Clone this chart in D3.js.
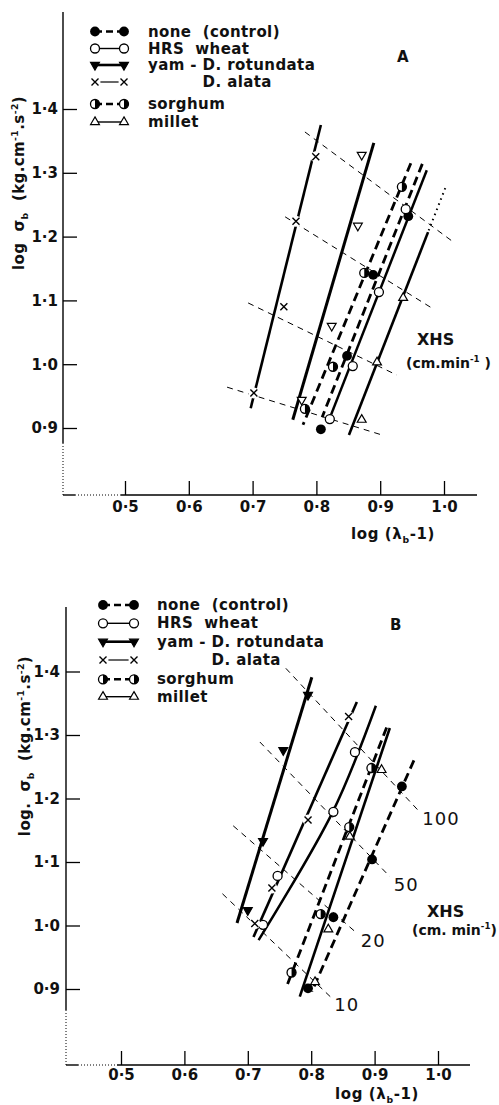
<!DOCTYPE html>
<html>
<head>
<meta charset="utf-8">
<script src="https://cdn.jsdelivr.net/npm/d3@7"></script>
<style>
body { margin: 0; background: #fff; }
text { font-family: "DejaVu Sans", sans-serif; font-weight: bold; fill: #111; white-space: pre; }
.tick text { font-size: 15px; }
.leg { font-size: 15px; letter-spacing: 0.4px; }
</style>
</head>
<body>
<svg id="chart" width="499" height="1105"></svg>
<script>
// ---- data: [log(lambda_b - 1), log sigma_b] ----
var xTicks = [0.5, 0.6, 0.7, 0.8, 0.9, 1.0];
var yTicks = [0.9, 1.0, 1.1, 1.2, 1.3, 1.4];
var seriesKeys = ["control", "hrs", "yam", "alata", "sorghum", "millet"];
var seriesNames = ["none  (control)", "HRS  wheat", "yam - D. rotundata", "D. alata", "sorghum", "millet"];

// panel A
var controlA = [[0.944, 1.232], [0.889, 1.140], [0.848, 1.013], [0.807, 0.898]];
var controlLineA = [[0.966, 1.314], [0.809, 0.917]];
var hrsA = [[0.940, 1.243], [0.898, 1.113], [0.857, 0.997], [0.821, 0.914]];
var hrsLineA = [[0.973, 1.304], [0.818, 0.908]];
var yamA = [[0.871, 1.328], [0.865, 1.217], [0.824, 1.060], [0.777, 0.944]];
var yamLineA = [[0.890, 1.347], [0.763, 0.913]];
var alataA = [[0.799, 1.325], [0.768, 1.224], [0.749, 1.090], [0.702, 0.955]];
var alataLineA = [[0.807, 1.375], [0.697, 0.931]];
var sorghumA = [[0.934, 1.278], [0.875, 1.143], [0.826, 0.996], [0.782, 0.930]];
var sorghumLineA = [[0.948, 1.315], [0.779, 0.905]];
var milletA = [[0.936, 1.104], [0.895, 1.003], [0.871, 0.913]];
var milletLineA = [[0.975, 1.207], [0.851, 0.889]];
var milletDotA = [[1.002, 1.276], [0.975, 1.207]];
var xhsA = [
    [[0.782, 1.364], [1.014, 1.192]],
    [[0.751, 1.231], [0.981, 1.088]],
    [[0.693, 1.096], [0.926, 0.983]],
    [[0.660, 0.964], [0.903, 0.889]]
];

// panel B
var controlB = [[0.943, 1.219], [0.896, 1.104], [0.835, 1.013], [0.795, 0.901]];
var controlLineB = [[0.962, 1.260], [0.801, 0.896]];
var hrsB = [[0.869, 1.273], [0.835, 1.179], [0.747, 1.078], [0.724, 1.001]];
var hrsLineB = [[0.902, 1.346], [0.834, 1.179], [0.717, 0.977]];
var yamB = [[0.795, 1.363], [0.756, 1.276], [0.724, 1.133], [0.700, 1.024]];
var yamLineB = [[0.801, 1.391], [0.683, 1.004]];
var alataB = [[0.859, 1.329], [0.795, 1.166], [0.738, 1.059], [0.711, 1.003]];
var alataLineB = [[0.872, 1.352], [0.709, 0.982]];
var sorghumB = [[0.895, 1.248], [0.860, 1.155], [0.815, 1.018], [0.769, 0.926]];
var sorghumLineB = [[0.919, 1.312], [0.762, 0.906]];
var milletB = [[0.911, 1.245], [0.861, 1.140], [0.827, 0.994], [0.806, 0.911]];
var milletLineB = [[0.924, 1.311], [0.782, 0.888]];
var xhsB = [
    [[0.760, 1.405], [0.969, 1.181]],
    [[0.719, 1.289], [0.924, 1.077]],
    [[0.677, 1.157], [0.872, 0.988]],
    [[0.660, 1.050], [0.830, 0.888]]
];
var xhsLevelsB = ["100", "50", "20", "10"];

// ---- styles ----
var lineStyle = {
    control: { dash: "9,5", w: 2.8, legW: 2.4, legDash: "7,4" },
    hrs: { dash: null, w: 2.5, legW: 1.4 },
    yam: { dash: null, w: 3, legW: 2.6 },
    alata: { dash: null, w: 2.6, legW: 1.2 },
    sorghum: { dash: "9,5", w: 2.8, legW: 2.4, legDash: "7,4" },
    millet: { dash: null, w: 2.6, legW: 1.4 }
};

var svg = d3.select("#chart");

function fmt(d) { return d.toFixed(1).replace(".", "\u00b7"); }

function rich(t, parts, size) {
    var cur = 0;
    parts.forEach(function (p) {
        var s = p[1] || 0;
        var off = s == 1 ? -0.42 * size : (s == -1 ? 0.28 * size : 0);
        t.append("tspan")
            .attr("dy", off - cur)
            .style("font-size", (s ? size * 0.62 : size) + "px")
            .text(p[0]);
        cur = off;
    });
}

function addMarker(g, kind, px, py) {
    var m = g.append("g").attr("transform", "translate(" + px + "," + py + ")");
    var r = 4.5;
    if (kind == "dot") {
        m.append("circle").attr("r", r + 0.4).attr("fill", "#000");
    } else if (kind == "ring") {
        m.append("circle").attr("r", r).attr("fill", "#fff").attr("stroke", "#000").attr("stroke-width", 1.3);
    } else if (kind == "half") {
        m.append("circle").attr("r", r).attr("fill", "#fff").attr("stroke", "#000").attr("stroke-width", 1.3);
        m.append("path")
            .attr("d", d3.arc()({ innerRadius: 0, outerRadius: r, startAngle: 0, endAngle: Math.PI }))
            .attr("fill", "#000");
    } else if (kind == "cross") {
        m.append("circle").attr("r", 5.5).attr("fill", "#fff");
        m.append("path").attr("d", "M-3.5,-3.5L3.5,3.5M-3.5,3.5L3.5,-3.5")
            .attr("stroke", "#000").attr("stroke-width", 1.4);
    } else if (kind == "triDown" || kind == "triDownOpen") {
        m.append("path").attr("d", d3.symbol(d3.symbolTriangle, 34)())
            .attr("transform", "rotate(180)")
            .attr("fill", kind == "triDown" ? "#000" : "#fff")
            .attr("stroke", "#000").attr("stroke-width", 1.2);
    } else if (kind == "triUp") {
        m.append("path").attr("d", d3.symbol(d3.symbolTriangle, 34)())
            .attr("fill", "#fff").attr("stroke", "#000").attr("stroke-width", 1.2);
    }
}

function drawPanel(p) {
    var g = svg.append("g");
    var x = d3.scaleLinear().domain([0.5, 1.0]).range([p.x05, p.x10]);
    var y = d3.scaleLinear().domain([0.9, 1.4]).range([p.y09, p.y14]);

    // axis lines, broken (dotted) near the origin
    g.append("line").attr("x1", p.left).attr("x2", p.left).attr("y1", p.top).attr("y2", p.yBreak)
        .attr("stroke", "#000").attr("stroke-width", 1.4);
    g.append("line").attr("x1", p.left).attr("x2", p.left).attr("y1", p.yBreak).attr("y2", p.bottom)
        .attr("stroke", "#000").attr("stroke-width", 1).attr("stroke-dasharray", "1,2");
    g.append("line").attr("x1", p.left).attr("x2", p.left + 12).attr("y1", p.bottom).attr("y2", p.bottom)
        .attr("stroke", "#000").attr("stroke-width", 1.4);
    g.append("line").attr("x1", p.left + 12).attr("x2", p.xBreak).attr("y1", p.bottom).attr("y2", p.bottom)
        .attr("stroke", "#000").attr("stroke-width", 1).attr("stroke-dasharray", "1,2");
    g.append("line").attr("x1", p.xBreak).attr("x2", p.right).attr("y1", p.bottom).attr("y2", p.bottom)
        .attr("stroke", "#000").attr("stroke-width", 1.4);

    var xa = g.append("g").attr("transform", "translate(0," + p.bottom + ")")
        .call(d3.axisBottom(x).tickValues(xTicks).tickSize(-p.tick).tickPadding(p.xPad).tickFormat(fmt));
    xa.select(".domain").remove();
    var ya = g.append("g").attr("transform", "translate(" + p.left + ",0)")
        .call(d3.axisLeft(y).tickValues(yTicks).tickSize(-p.tick).tickPadding(p.yPad).tickFormat(fmt));
    ya.select(".domain").remove();
    g.selectAll(".tick line").attr("stroke-width", 1.3);

    var line = d3.line().x(function (d) { return x(d[0]); }).y(function (d) { return y(d[1]); })
        .curve(d3.curveCatmullRom);

    // constant XHS lines
    p.xhs.forEach(function (seg, i) {
        g.append("path").attr("d", line(seg)).attr("fill", "none")
            .attr("stroke", "#000").attr("stroke-width", 1).attr("stroke-dasharray", "6,5");
        if (p.xhsLevels) {
            g.append("text").attr("x", x(seg[1][0]) + 4).attr("y", y(seg[1][1]) + 14)
                .style("font-size", "18px").style("font-weight", "normal").style("letter-spacing", "1px")
                .text(p.xhsLevels[i]);
        }
    });

    // fitted lines
    p.series.forEach(function (s) {
        var st = lineStyle[s.key];
        g.append("path").attr("d", line(s.line)).attr("fill", "none")
            .attr("stroke", "#000").attr("stroke-width", st.w)
            .attr("stroke-dasharray", st.dash);
    });
    if (p.dotted) {
        g.append("path").attr("d", line(p.dotted)).attr("fill", "none")
            .attr("stroke", "#000").attr("stroke-width", 2).attr("stroke-dasharray", "1.5,4");
    }
    // observed points
    p.series.forEach(function (s) {
        s.pts.forEach(function (d) {
            addMarker(g, s.marker, x(d[0]), y(d[1]));
        });
    });

    // legend
    var yamText = null;
    seriesKeys.forEach(function (k, i) {
        var ry = p.legY[i];
        var st = lineStyle[k];
        g.append("line").attr("x1", p.legX1).attr("x2", p.legX2).attr("y1", ry).attr("y2", ry)
            .attr("stroke", "#000").attr("stroke-width", st.legW).attr("stroke-dasharray", st.legDash || null);
        var mk = p.legMarkers[i];
        addMarker(g, mk, p.legX1, ry);
        addMarker(g, mk, p.legX2, ry);
        var tx = p.legTextX;
        // "D. alata" lines up under the "D." of the yam entry
        if (k == "alata" && yamText) tx = yamText.node().getStartPositionOfChar(6).x;
        var t = g.append("text").attr("class", "leg")
            .attr("x", tx)
            .attr("y", ry + 5)
            .text(seriesNames[i]);
        if (k == "yam") yamText = t;
    });

    g.append("text").attr("x", p.labelX).attr("y", p.labelY).style("font-size", "15px").text(p.label);

    // XHS caption
    g.append("text").attr("x", p.xhsX).attr("y", p.xhsY).style("font-size", "16px").text("XHS");
    rich(g.append("text").attr("x", p.unitX).attr("y", p.unitY), p.unitParts, 14);

    // axis titles
    rich(g.append("text").attr("text-anchor", "middle").style("letter-spacing", "0.4px")
        .attr("transform", "translate(" + p.yTitleX + "," + p.yTitleY + ") rotate(-90)"),
        p.yTitleParts, 15);
    rich(g.append("text").attr("text-anchor", "middle").style("letter-spacing", "0.6px")
        .attr("x", p.xTitleX).attr("y", p.xTitleY),
        [["log (\u03bb", 0], ["b", -1], ["-1)", 0]], 15);
}

function makeSeries(list, markers) {
    return list.map(function (d, i) {
        return { key: seriesKeys[i], pts: d[0], line: d[1], marker: markers[i] };
    });
}

drawPanel({
    left: 63, right: 477, top: 12, bottom: 495,
    x05: 125, x10: 444, y09: 428, y14: 109,
    xBreak: 121, yBreak: 443, tick: 14, xPad: 6, yPad: 5,
    xhs: xhsA, xhsLevels: null,
    series: makeSeries([[controlA, controlLineA], [hrsA, hrsLineA], [yamA, yamLineA],
        [alataA, alataLineA], [sorghumA, sorghumLineA], [milletA, milletLineA]],
        ["dot", "ring", "triDownOpen", "cross", "half", "triUp"]),
    dotted: milletDotA,
    legY: [31.5, 48.5, 65, 82, 104, 122],
    legX1: 95, legX2: 124, legTextX: 148,
    legMarkers: ["dot", "ring", "triDown", "cross", "half", "triUp"],
    label: "A", labelX: 397, labelY: 62,
    xhsX: 417, xhsY: 345, unitX: 406, unitY: 368,
    unitParts: [["(cm.min", 0], ["-1", 1], [" )", 0]],
    yTitleX: 24, yTitleY: 183,
    yTitleParts: [["log  \u03c3", 0], ["b", -1], ["  (kg.cm", 0], ["-1", 1], [".s", 0], ["-2", 1], [")", 0]],
    xTitleX: 393, xTitleY: 539
});

drawPanel({
    left: 66, right: 470, top: 607, bottom: 1065,
    x05: 121, x10: 438, y09: 989, y14: 671.5,
    xBreak: 117, yBreak: 1010, tick: 14, xPad: 4, yPad: 6,
    xhs: xhsB, xhsLevels: xhsLevelsB,
    series: makeSeries([[controlB, controlLineB], [hrsB, hrsLineB], [yamB, yamLineB],
        [alataB, alataLineB], [sorghumB, sorghumLineB], [milletB, milletLineB]],
        ["dot", "ring", "triDown", "cross", "half", "triUp"]),
    dotted: null,
    legY: [605, 623.3, 641.7, 660, 679.3, 696.7],
    legX1: 103, legX2: 134, legTextX: 157,
    legMarkers: ["dot", "ring", "triDown", "cross", "half", "triUp"],
    label: "B", labelX: 390, labelY: 630,
    xhsX: 427, xhsY: 917, unitX: 412, unitY: 935,
    unitParts: [["(cm. min", 0], ["-1", 1], [")", 0]],
    yTitleX: 30, yTitleY: 746,
    yTitleParts: [["log.  \u03c3", 0], ["b", -1], ["  (kg.cm", 0], ["-1", 1], [".s", 0], ["-2", 1], [")", 0]],
    xTitleX: 377, xTitleY: 1099
});
</script>
</body>
</html>
